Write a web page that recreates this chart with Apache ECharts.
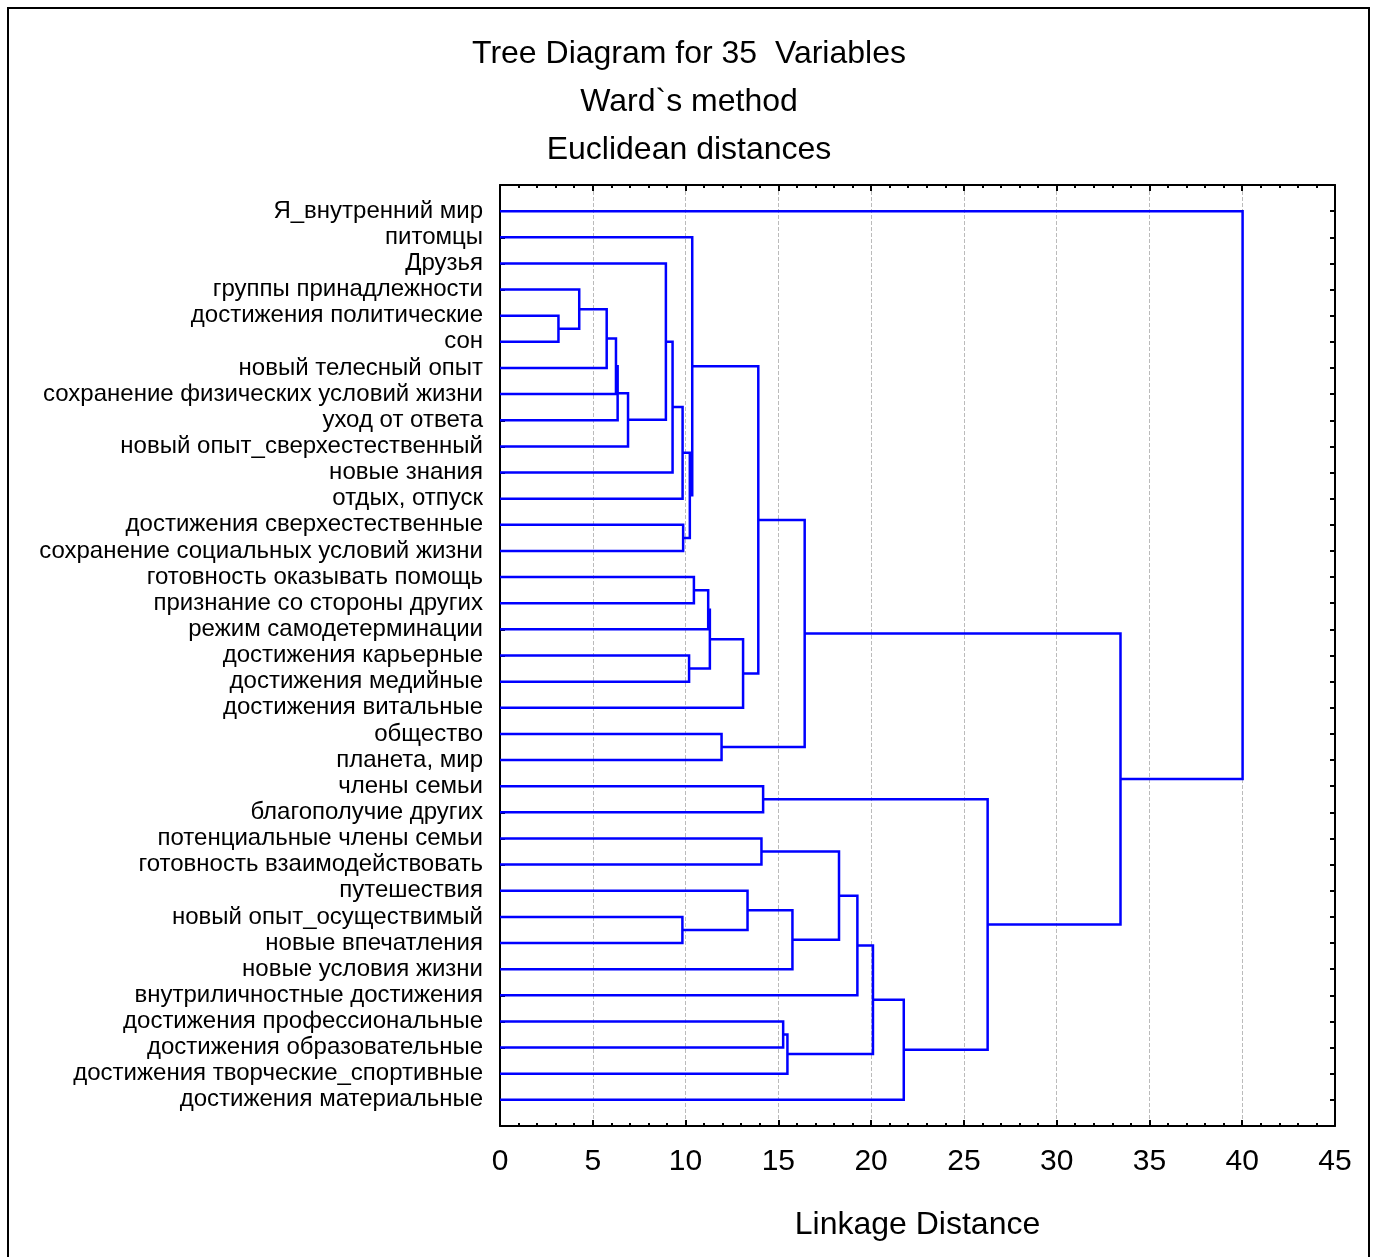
<!DOCTYPE html>
<html>
<head>
<meta charset="utf-8">
<script src="https://cdn.jsdelivr.net/npm/echarts@6/dist/echarts.min.js"></script>
<style>
html,body{margin:0;padding:0;background:#fff;}
#chart{width:1378px;height:1257px;}
</style>
</head>
<body>
<div id="chart"></div>
<script>
// Leaf labels, top to bottom
const leaves = [
  'Я_внутренний мир',
  'питомцы',
  'Друзья',
  'группы принадлежности',
  'достижения политические',
  'сон',
  'новый телесный опыт',
  'сохранение физических условий жизни',
  'уход от ответа',
  'новый опыт_сверхестественный',
  'новые знания',
  'отдых, отпуск',
  'достижения сверхестественные',
  'сохранение социальных условий жизни',
  'готовность оказывать помощь',
  'признание со стороны других',
  'режим самодетерминации',
  'достижения карьерные',
  'достижения медийные',
  'достижения витальные',
  'общество',
  'планета, мир',
  'члены семьи',
  'благополучие других',
  'потенциальные члены семьи',
  'готовность взаимодействовать',
  'путешествия',
  'новый опыт_осуществимый',
  'новые впечатления',
  'новые условия жизни',
  'внутриличностные достижения',
  'достижения профессиональные',
  'достижения образовательные',
  'достижения творческие_спортивные',
  'достижения материальные'
];

// Merge children (leaf index 0..34, or 35+k for merge k) and linkage distances
const mergeA = [4, 3, 36, 37, 38, 39, 2, 41, 42, 12, 43, 1, 14, 47, 17, 48, 50, 46, 20, 52,
                22, 24, 27, 26, 58, 56, 60, 31, 62, 61, 64, 55, 54, 0];
const mergeB = [5, 35, 6, 7, 8, 9, 40, 10, 11, 13, 44, 45, 15, 16, 18, 49, 19, 51, 21, 53,
                23, 25, 28, 57, 29, 59, 30, 32, 33, 63, 34, 65, 66, 67];
const mergeHeight = [3.15, 4.27, 5.75, 6.25, 6.34, 6.9, 8.94, 9.3, 9.84, 9.87, 10.23, 10.36,
                     10.45, 11.22, 10.19, 11.31, 13.1, 13.92, 11.94, 16.42,
                     14.18, 14.09, 9.83, 13.34, 15.76, 18.27, 19.26, 15.26, 15.49, 20.1, 21.76,
                     26.28, 33.44, 40.02];

const xTicks = [0, 5, 10, 15, 20, 25, 30, 35, 40, 45];

// Build node positions from the linkage
const nLeaf = leaves.length;
const nodeY = leaves.map((_, i) => i);
const nodeH = leaves.map(() => 0);
const links = [];
for (let k = 0; k < mergeA.length; k++) {
  const a = mergeA[k], b = mergeB[k], h = mergeHeight[k];
  links.push([nodeH[a], nodeY[a], h, nodeY[b], nodeH[b]]);
  nodeY.push((nodeY[a] + nodeY[b]) / 2);
  nodeH.push(h);
}

const FONT = '"Liberation Sans", Arial, sans-serif';
const AXLINE = {show: true, onZero: false, lineStyle: {color: '#000', width: 2}};
const chart = echarts.init(document.getElementById('chart'));
chart.setOption({
  backgroundColor: '#fff',
  animation: false,
  title: {
    text: 'Tree Diagram for 35  Variables\nWard`s method\nEuclidean distances',
    left: 'center',
    top: 25,
    textStyle: {fontSize: 32, fontWeight: 'normal', color: '#000', lineHeight: 48, fontFamily: FONT}
  },
  graphic: [{
    type: 'rect',
    shape: {x: 8, y: 8, width: 1361, height: 1262},
    style: {fill: null, stroke: '#000', lineWidth: 2},
    silent: true
  }],
  grid: {left: 500, right: 43, top: 185, bottom: 131},
  xAxis: [{
    type: 'value', min: 0, max: 45, interval: 5, position: 'bottom',
    name: 'Linkage Distance', nameLocation: 'middle', nameGap: 83,
    nameTextStyle: {fontSize: 32, color: '#000', fontFamily: FONT},
    axisLine: AXLINE,
    axisTick: {show: true, inside: true, length: 6, lineStyle: {color: '#000', width: 2}},
    minorTick: {show: true, splitNumber: 5, length: 3, lineStyle: {color: '#000', width: 2}},
    axisLabel: {fontSize: 30, color: '#000', margin: 21, fontFamily: FONT,
      formatter: v => xTicks.includes(v) ? String(v) : ''},
    splitLine: {show: true, lineStyle: {color: '#bbb', type: 'dashed', width: 1}}
  }, {
    type: 'value', min: 0, max: 45, interval: 5, position: 'top',
    axisLine: AXLINE,
    axisTick: {show: true, inside: true, length: 6, lineStyle: {color: '#000', width: 2}},
    minorTick: {show: true, splitNumber: 5, length: 3, lineStyle: {color: '#000', width: 2}},
    axisLabel: {show: false},
    splitLine: {show: false}
  }],
  yAxis: [{
    type: 'value', min: -1, max: 35, interval: 1, inverse: true, position: 'left',
    axisLine: AXLINE,
    axisTick: {show: true, inside: true, length: 5, lineStyle: {color: '#000', width: 2}},
    axisLabel: {fontSize: 24, color: '#000', margin: 17, fontFamily: FONT,
      formatter: v => (Number.isInteger(v) && v >= 0 && v < nLeaf) ? leaves[v] : ''},
    splitLine: {show: false}
  }, {
    type: 'value', min: -1, max: 35, interval: 1, inverse: true, position: 'right',
    axisLine: AXLINE,
    axisTick: {show: true, inside: true, length: 5, lineStyle: {color: '#000', width: 2}},
    axisLabel: {show: false},
    splitLine: {show: false}
  }],
  series: [{
    type: 'custom',
    xAxisIndex: 0, yAxisIndex: 0,
    dimensions: ['ha', 'ya', 'h', 'yb', 'hb'],
    encode: {x: [0, 2, 4], y: [1, 3]},
    data: links,
    renderItem: function (params, api) {
      const ha = api.value(0), ya = api.value(1), h = api.value(2), yb = api.value(3), hb = api.value(4);
      const pts = [api.coord([ha, ya]), api.coord([h, ya]), api.coord([h, yb]), api.coord([hb, yb])];
      return {type: 'polyline', shape: {points: pts},
        style: {stroke: '#0000ff', lineWidth: 2.5, fill: null}};
    },
    z: 5
  }]
});
</script>
</body>
</html>
